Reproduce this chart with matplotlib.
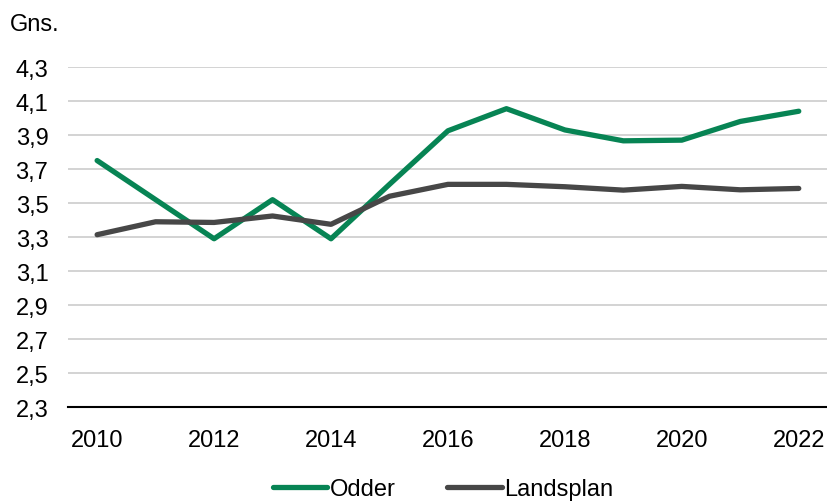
import matplotlib.pyplot as plt
from matplotlib.ticker import FixedLocator

plt.rcParams['font.family'] = ['Liberation Sans', 'DejaVu Sans']

years = [2010, 2011, 2012, 2013, 2014, 2015, 2016, 2017, 2018, 2019, 2020, 2021, 2022]
odder = [3.75, 3.52, 3.29, 3.52, 3.29, 3.61, 3.925, 4.055, 3.93, 3.866, 3.87, 3.98, 4.04]
landsplan = [3.314, 3.39, 3.386, 3.424, 3.375, 3.54, 3.61, 3.61, 3.596, 3.576, 3.598, 3.578, 3.586]
y_ticks = [2.3, 2.5, 2.7, 2.9, 3.1, 3.3, 3.5, 3.7, 3.9, 4.1, 4.3]
x_ticks = [2010, 2012, 2014, 2016, 2018, 2020, 2022]

fig = plt.figure(figsize=(8.28, 5.02), dpi=100)
ax = fig.add_axes([0.082, 0.187, 0.918, 0.6775])

ax.plot(years, odder, color="#078454", lw=3.8, label="Odder", solid_capstyle="round")
ax.plot(years, landsplan, color="#474747", lw=3.8, label="Landsplan", solid_capstyle="round")

ax.set_ylim(2.3, 4.3)
ax.set_xlim(2009.5, 2022.5)
ax.yaxis.set_major_locator(FixedLocator(y_ticks))
ax.set_yticklabels([f"{v:.1f}".replace(".", ",") for v in y_ticks])
ax.set_xticks(x_ticks)
ax.grid(axis="y", color="#c8c8c8", lw=1.1)
ax.set_axisbelow(True)
for s in ["top", "right", "left"]:
    ax.spines[s].set_visible(False)
ax.spines["bottom"].set_color("black")
ax.spines["bottom"].set_linewidth(1.5)
ax.tick_params(axis="y", length=0, pad=14, labelsize=17)
ax.tick_params(axis="x", length=0, pad=16, labelsize=17)

fig.text(0.012, 0.95, "Gns.", fontsize=17, ha="left", va="center")

fig.legend(loc="center", bbox_to_anchor=(0.535, 0.023), ncol=2, frameon=False,
           fontsize=17, handlelength=2.3, handletextpad=0.1, columnspacing=2.2)

fig.savefig("out.png", dpi=100)
